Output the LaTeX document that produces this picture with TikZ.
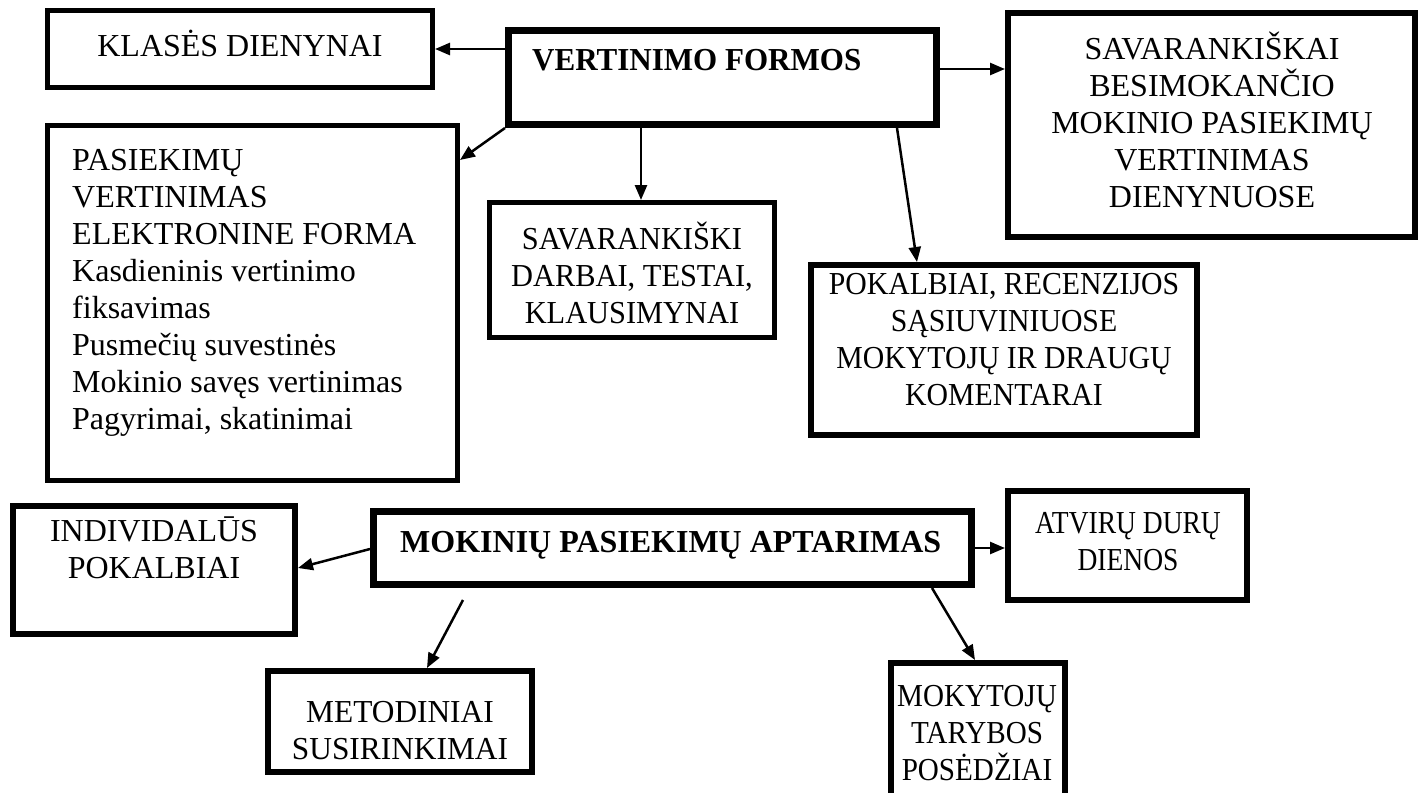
\documentclass[tikz,border=0pt]{standalone}
\usepackage{fontspec}
\setmainfont{Liberation Serif}
\usetikzlibrary{arrows.meta}
\begin{document}
\begin{tikzpicture}[x=1pt,y=-1pt,
  box/.style={draw, rectangle, inner sep=0pt, line width=#1},
  box/.default=6pt,
  txt/.style={font=\fontsize{32}{37}\selectfont\addfontfeature{FakeStretch=#1}, align=center, inner sep=0pt},
  txt/.default=1,
  btxt/.style={font=\fontsize{32}{37}\selectfont\bfseries\addfontfeature{FakeStretch=#1}, inner sep=0pt},
  btxt/.default=1,
  arr/.style={line width=2.5pt, -{Triangle[length=15pt,width=12pt]}}]
\useasboundingbox (0,0) rectangle (1428,793);
% boxes
\node[box=5pt, minimum width=385pt, minimum height=77pt] (kd) at (240,49) {};
\node[box=7pt, minimum width=428pt, minimum height=94pt] (vf) at (722.5,77.5) {};
\node[box=6pt, minimum width=407pt, minimum height=224pt] (sav) at (1211.5,125) {};
\node[box=5pt, minimum width=410pt, minimum height=355pt] (pas) at (252.5,303) {};
\node[box=5pt, minimum width=285pt, minimum height=135pt] (sd) at (632,270) {};
\node[box=6pt, minimum width=386pt, minimum height=170pt] (pok) at (1004,350) {};
\node[box=6pt, minimum width=282pt, minimum height=128pt] (ind) at (154,570) {};
\node[box=7pt, minimum width=598pt, minimum height=73pt] (mpa) at (672.5,548) {};
\node[box=6pt, minimum width=239pt, minimum height=109pt] (atv) at (1127.5,545.5) {};
\node[box=6pt, minimum width=264pt, minimum height=101pt] (met) at (400,721.5) {};
\node[box=6pt, minimum width=174pt, minimum height=140pt] (mok) at (978,733) {};
% texts
\node[txt] (kdt) at (240,43.5) {KLASĖS DIENYNAI};
\node[btxt=0.97, anchor=west] (vft) at (532,60) {VERTINIMO FORMOS};
\node[txt] (savt) at (1212,120) {SAVARANKIŠKAI\\BESIMOKANČIO\\MOKINIO PASIEKIMŲ\\VERTINIMAS\\DIENYNUOSE};
\node[txt, align=left, anchor=north west] (past) at (72,149) {PASIEKIMŲ\\VERTINIMAS\\ELEKTRONINE FORMA\\Kasdieninis vertinimo\\fiksavimas\\Pusmečių suvestinės\\Mokinio savęs vertinimas\\Pagyrimai, skatinimai};
\node[txt=0.95] (sdt) at (632,273) {SAVARANKIŠKI\\DARBAI, TESTAI,\\KLAUSIMYNAI};
\node[txt=0.93] (pokt) at (1004,340) {POKALBIAI, RECENZIJOS\\SĄSIUVINIUOSE\\MOKYTOJŲ IR DRAUGŲ\\KOMENTARAI};
\node[txt] (indt) at (154,548) {INDIVIDALŪS\\POKALBIAI};
\node[btxt, anchor=west] (mpat) at (400,545) {MOKINIŲ PASIEKIMŲ APTARIMAS};
\node[txt=0.86] (atvt) at (1128,542) {ATVIRŲ DURŲ\\DIENOS};
\node[txt=0.98] (mett) at (400,731) {METODINIAI\\SUSIRINKIMAI};
\node[txt=0.91] (mokt) at (977,733) {MOKYTOJŲ\\TARYBOS\\POSĖDŽIAI};
% connectors
\draw[arr] ([yshift=28.5pt]vf.west) -- (kd.east);
\draw[arr] (vf.south west) -- ([yshift=143pt]pas.east);
\draw[arr] ([xshift=-81.5pt]vf.south) -- ([xshift=9pt]sd.north);
\draw[arr] ([xshift=174.5pt]vf.south) -- ([xshift=-87pt]pok.north);
\draw[arr] ([yshift=8.5pt]vf.east) -- ([yshift=56pt]sav.west);
\draw[arr] ([yshift=-1pt]mpa.west) -- ([yshift=2pt]ind.east);
\draw[arr] (mpa.east) -- ([yshift=-2.5pt]atv.west);
\coordinate (metfrom) at (463,600);
\draw[arr] (metfrom) -- ([xshift=27pt]met.north);
\draw[arr] ([xshift=259.5pt]mpa.south) -- ([xshift=-3pt]mok.north);
\end{tikzpicture}
\end{document}
